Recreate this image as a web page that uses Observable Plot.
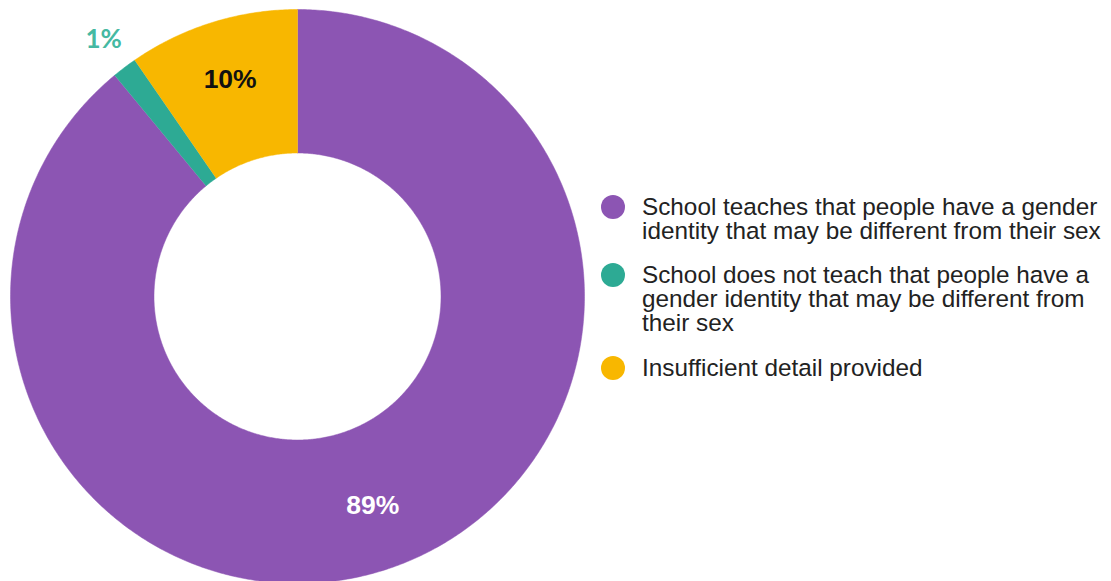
<!DOCTYPE html>
<html>
<head>
<meta charset="utf-8">
<script src="https://cdn.jsdelivr.net/npm/d3@7"></script>
<script src="https://cdn.jsdelivr.net/npm/@observablehq/plot@0.6"></script>
<style>
  html, body { margin: 0; padding: 0; background: #fff; }
  #wrap { position: relative; width: 1111px; height: 581px; overflow: hidden; }
  #legend { position: absolute; left: 601px; top: 0; font-family: "Liberation Sans", Arial, sans-serif; font-size: 24.3px; line-height: 24px; color: #222; }
  .item { position: absolute; left: 0; display: flex; align-items: flex-start; white-space: nowrap; }
  .sw { width: 24px; height: 24px; border-radius: 50%; margin-right: 17px; flex: none; }
</style>
</head>
<body>
<div id="wrap"></div>
<script>
// Data
const categories = [
  "School teaches that people have a gender identity that may be different from their sex",
  "School does not teach that people have a gender identity that may be different from their sex",
  "Insufficient detail provided"
];
const legendLines = [
  ["School teaches that people have a gender", "identity that may be different from their sex"],
  ["School does not teach that people have a", "gender identity that may be different from", "their sex"],
  ["Insufficient detail provided"]
];
const values = [89, 1.4, 9.6];
const labels = ["89%", "1%", "10%"];
const colors = ["#8C55B3", "#2DAA94", "#F8B700"];
const labelColors = ["#ffffff", "#45B9A2", "#111111"];

// Geometry of the donut in data units (outer radius = 1)
const inner = 0.5;
const total = d3.sum(values);
let acc = 0;
const slices = values.map((v, i) => {
  const a0 = acc / total * 2 * Math.PI;
  acc += v;
  const a1 = acc / total * 2 * Math.PI;
  return {i, key: categories[i], a0, a1};
});

const polyPts = [];
for (const s of slices) {
  const n = Math.max(4, Math.ceil((s.a1 - s.a0) / (Math.PI / 360)));
  for (let k = 0; k <= n; k++) {
    const a = s.a0 + (s.a1 - s.a0) * k / n;
    polyPts.push({key: s.key, x: Math.sin(a), y: Math.cos(a)});
  }
  for (let k = n; k >= 0; k--) {
    const a = s.a0 + (s.a1 - s.a0) * k / n;
    polyPts.push({key: s.key, x: inner * Math.sin(a), y: inner * Math.cos(a)});
  }
}

const labelRadius = [0.775, 1.12, 0.79];
const labelPts = slices.map(s => {
  const m = (s.a0 + s.a1) / 2;
  const r = labelRadius[s.i];
  return {x: r * Math.sin(m), y: r * Math.cos(m), label: labels[s.i], color: labelColors[s.i], outside: s.i === 1};
});

const W = 1111, H = 581, cx = 297, cy = 296, R = 287;

const plot = Plot.plot({
  width: W,
  height: H,
  margin: 0,
  x: {domain: [-cx / R, (W - cx) / R], range: [0, W], axis: null},
  y: {domain: [-(H - cy) / R, cy / R], range: [H, 0], axis: null},
  color: {domain: categories, range: colors},
  style: {background: "transparent"},
  marks: [
    Plot.line(polyPts, {x: "x", y: "y", z: "key", fill: "key", stroke: "key", strokeWidth: 0.5, curve: "linear"}),
    Plot.text(labelPts.filter(d => !d.outside), {x: "x", y: "y", text: "label", fill: d => d.color, fontWeight: "bold", fontSize: 26.5, fontFamily: "Liberation Sans, Arial, sans-serif"}),
    Plot.text(labelPts.filter(d => d.outside), {x: "x", y: "y", text: "label", fill: d => d.color, fontWeight: "bold", fontSize: 26, fontFamily: "Lato, sans-serif"})
  ]
});

const wrap = document.getElementById("wrap");
wrap.appendChild(plot);

const legend = document.createElement("div");
legend.id = "legend";
const tops = [195, 263, 356];
categories.forEach((c, i) => {
  const item = document.createElement("div");
  item.className = "item";
  item.style.top = tops[i] + "px";
  const sw = document.createElement("div");
  sw.className = "sw";
  sw.style.background = colors[i];
  const tx = document.createElement("div");
  tx.innerHTML = legendLines[i].join("<br>");
  item.appendChild(sw);
  item.appendChild(tx);
  legend.appendChild(item);
});
wrap.appendChild(legend);
</script>
</body>
</html>
